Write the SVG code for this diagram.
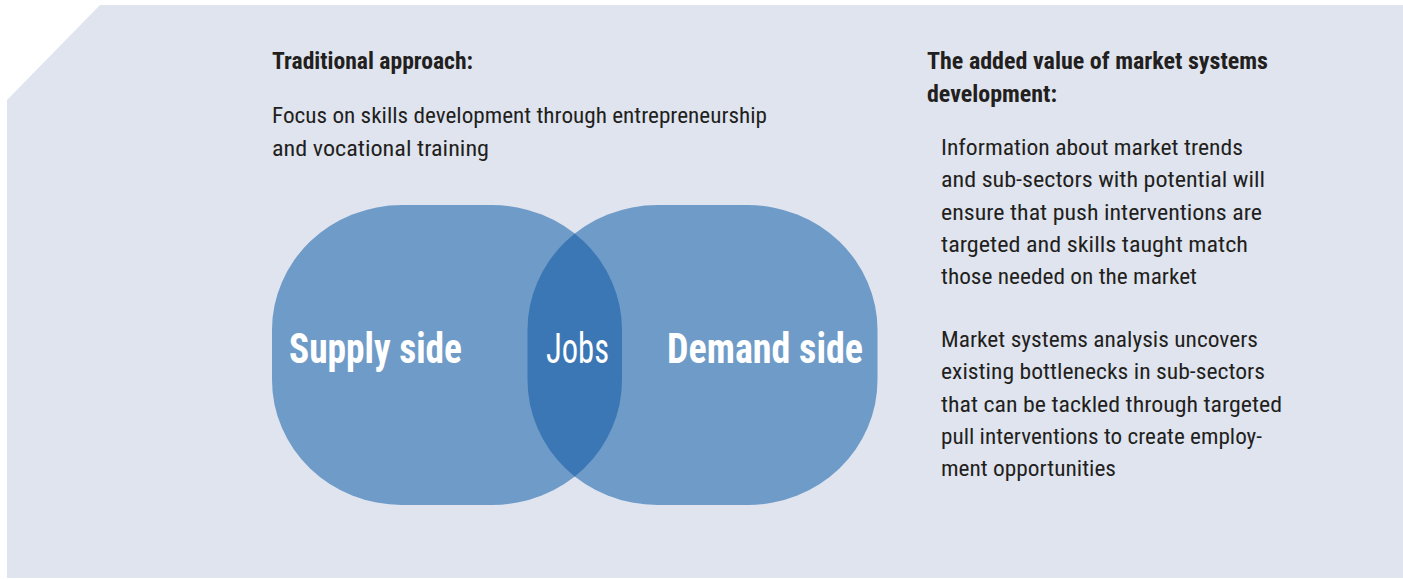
<svg xmlns="http://www.w3.org/2000/svg" width="1403" height="579" viewBox="0 0 1403 579">
  <style>
    .t { font-family: "Liberation Sans Narrow", "Roboto Condensed", "DejaVu Sans Condensed", "Liberation Sans", sans-serif; fill: #231f20; font-size: 22.5px; }
    .b { font-weight: bold; font-size: 23px; }
    .lbl { font-family: "Liberation Sans Narrow", "Roboto Condensed", "DejaVu Sans Condensed", "Liberation Sans", sans-serif; fill: #ffffff; font-size: 43px; }
    .shape { fill: #6f9bc8; }
    .overlap { fill: #3b77b4; }
  </style>
  <defs>
    <path id="lobe" d="M 402 205 H 492 A 130 125 0 0 1 622 330 V 380 A 130 125 0 0 1 492 505 H 402 A 130 125 0 0 1 272 380 V 330 A 130 125 0 0 1 402 205 Z"/>
    <clipPath id="clipLeft"><use href="#lobe"/></clipPath>
  </defs>
  <polygon id="panel" points="100,5 1403,5 1403,578 7,578 7,100" fill="#dfe4ef"/>

  <g id="traditional">
    <text class="t b" x="272" y="69" textLength="201" lengthAdjust="spacingAndGlyphs">Traditional approach:</text>
    <text class="t" x="272" y="123" textLength="495" lengthAdjust="spacingAndGlyphs">Focus on skills development through entrepreneurship</text>
    <text class="t" x="272" y="156" textLength="217" lengthAdjust="spacingAndGlyphs">and vocational training</text>
  </g>

  <g id="supply">
    <use href="#lobe" class="shape"/>
    <text class="lbl" x="289" y="363" font-weight="bold" textLength="173" lengthAdjust="spacingAndGlyphs">Supply side</text>
  </g>
  <g id="demand">
    <use href="#lobe" class="shape" transform="translate(255.5,0)"/>
    <text class="lbl" x="667" y="363" font-weight="bold" textLength="196" lengthAdjust="spacingAndGlyphs">Demand side</text>
  </g>
  <g id="jobs">
    <g clip-path="url(#clipLeft)">
      <use href="#lobe" class="overlap" transform="translate(255.5,0)"/>
    </g>
    <text class="lbl" x="546" y="363" textLength="63" lengthAdjust="spacingAndGlyphs">Jobs</text>
  </g>

  <g id="added-value">
    <text class="t b" x="927" y="69" textLength="341" lengthAdjust="spacingAndGlyphs">The added value of market systems</text>
    <text class="t b" x="927" y="102" textLength="130" lengthAdjust="spacingAndGlyphs">development:</text>
    <text class="t" x="941" y="155" textLength="302" lengthAdjust="spacingAndGlyphs">Information about market trends</text>
    <text class="t" x="941" y="187" textLength="324" lengthAdjust="spacingAndGlyphs">and sub-sectors with potential will</text>
    <text class="t" x="941" y="220" textLength="321" lengthAdjust="spacingAndGlyphs">ensure that push interventions are</text>
    <text class="t" x="941" y="252" textLength="307" lengthAdjust="spacingAndGlyphs">targeted and skills taught match</text>
    <text class="t" x="941" y="284" textLength="256" lengthAdjust="spacingAndGlyphs">those needed on the market</text>
    <text class="t" x="941" y="347" textLength="317" lengthAdjust="spacingAndGlyphs">Market systems analysis uncovers</text>
    <text class="t" x="941" y="379" textLength="324" lengthAdjust="spacingAndGlyphs">existing bottlenecks in sub-sectors</text>
    <text class="t" x="941" y="412" textLength="341" lengthAdjust="spacingAndGlyphs">that can be tackled through targeted</text>
    <text class="t" x="941" y="444" textLength="321" lengthAdjust="spacingAndGlyphs">pull interventions to create employ-</text>
    <text class="t" x="941" y="476" textLength="175" lengthAdjust="spacingAndGlyphs">ment opportunities</text>
  </g>

  <g id="connectors"/>
</svg>
